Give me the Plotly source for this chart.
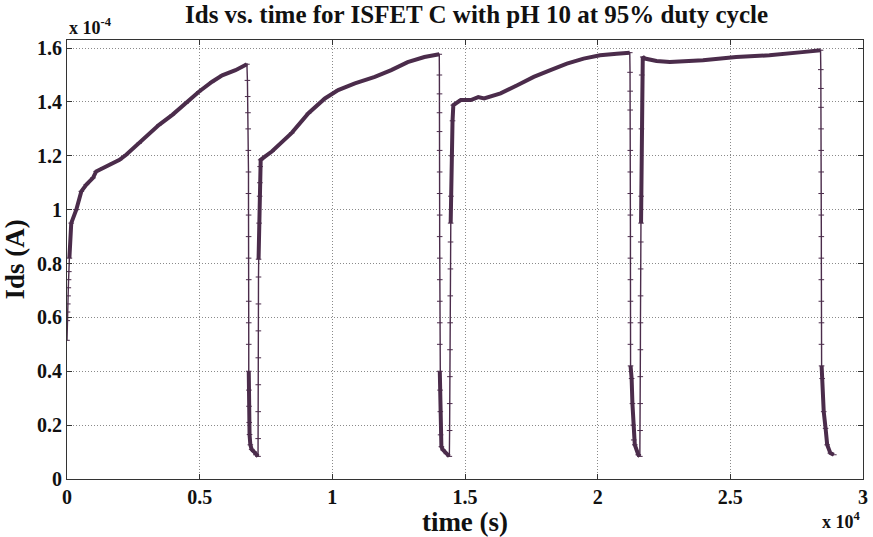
import plotly.graph_objects as go

# ---- data (time in s, Ids in microamps) ----
rise1_t = [0, 10, 20, 30, 40, 50, 60, 70, 80]
rise1_i = [51.5, 58.8, 62, 65, 68, 71, 74, 77, 80]
grow1_t = [90, 160, 350, 540, 730, 980, 1100, 1350, 1720, 1980, 2230, 2720, 3470, 3970, 4480, 4970, 5470, 5850, 6350, 6780]
grow1_i = [82, 95, 100, 106.8, 109.3, 111.8, 114.2, 115.5, 117.3, 118.5, 120.4, 124.7, 131.5, 135.2, 139.5, 143.8, 147.5, 149.9, 151.8, 154]
fall1_t = [6800, 6810, 6820, 6830, 6835, 6840, 6840, 6845, 6845, 6845, 6850, 6850, 6850, 6850]
fall1_i = [148, 142, 136, 130, 122, 114, 106, 98, 90, 82, 74, 66, 58, 50]
decay1_t = [6850, 6855, 6860, 6868, 6880, 6910, 6960, 7040, 7120, 7200]
decay1_i = [40, 33, 27, 21, 16.5, 12.7, 11, 10.2, 9, 8.4]

rise2_t = [7205, 7207, 7209, 7211, 7213, 7215, 7217]
rise2_i = [15, 25, 35, 45, 55, 65, 75]
grow2_t = [7220, 7240, 7260, 7270, 7280, 7300, 7470, 7720, 8470, 9100, 9720, 10220, 10850, 11600, 12220, 12840, 13470, 14030]
grow2_i = [81.6, 95, 105, 110, 116, 118.5, 119.8, 121.6, 128.5, 135.8, 141.3, 144.4, 146.9, 149.3, 151.8, 154.8, 156.7, 157.7]
fall2_t = [14035, 14040, 14040, 14040, 14045, 14045, 14045, 14045, 14045, 14050, 14050, 14050, 14050, 14050]
fall2_i = [150, 143, 136, 129, 122, 114, 106, 98, 90, 82, 74, 66, 58, 50]
decay2_t = [14050, 14060, 14070, 14080, 14110, 14170, 14300, 14410]
decay2_i = [40, 33, 25, 16.4, 12, 10.8, 9.4, 8.4]

rise3_t = [14420, 14425, 14430, 14435, 14440, 14445, 14450, 14455]
rise3_i = [18, 28, 38, 48, 58, 68, 78, 88]
grow3_t = [14460, 14470, 14500, 14530, 14560, 14700, 14840, 15220, 15500, 15720, 16340, 16970, 17590, 18220, 18840, 19470, 20090, 20720, 21210]
grow3_i = [95, 105, 120, 133, 138.8, 139.8, 140.7, 140.7, 141.8, 141.3, 143.2, 146.2, 149.3, 151.8, 154.2, 156.1, 157.3, 157.9, 158.3]
fall3_t = [21220, 21225, 21225, 21228, 21230, 21230, 21230, 21232, 21235, 21235, 21235, 21235, 21235, 21235]
fall3_i = [151, 144, 137, 130, 122, 114, 106, 98, 90, 82, 74, 66, 58, 50]
decay3_t = [21240, 21280, 21310, 21340, 21360, 21400, 21530, 21590]
decay3_i = [42, 37.3, 28, 20, 14.5, 12.7, 9, 8.4]

rise4_t = [21600, 21603, 21606, 21610, 21613, 21617, 21620, 21625]
rise4_i = [18, 28, 38, 48, 58, 68, 78, 88]
grow4_t = [21635, 21640, 21650, 21660, 21700, 21780, 22220, 22720, 23970, 25220, 26470, 27710, 28400]
grow4_i = [95, 105, 130, 150, 156.7, 156.1, 155.2, 154.8, 155.5, 156.7, 157.3, 158.5, 159.2]
fall4_t = [28410, 28415, 28420, 28420, 28425, 28425, 28425, 28428, 28430, 28430, 28430, 28430, 28435, 28435]
fall4_i = [152, 145, 138, 130, 122, 114, 106, 98, 90, 82, 74, 66, 58, 50]
decay4_t = [28440, 28460, 28520, 28590, 28650, 28770, 28900]
decay4_i = [42, 37.3, 25, 18.8, 12.7, 9.6, 9.0]

x_ticks = [0, 5000, 10000, 15000, 20000, 25000, 30000]
x_tick_text = ["0", "0.5", "1", "1.5", "2", "2.5", "3"]
y_ticks_uA = [0, 20, 40, 60, 80, 100, 120, 140, 160]
y_tick_text = ["0", "0.2", "0.4", "0.6", "0.8", "1", "1.2", "1.4", "1.6"]

COLOR = "#4b2c4b"
UA = 1e-6

seq = [(rise1_t, rise1_i), (grow1_t, grow1_i), (fall1_t, fall1_i), (decay1_t, decay1_i),
       (rise2_t, rise2_i), (grow2_t, grow2_i), (fall2_t, fall2_i), (decay2_t, decay2_i),
       (rise3_t, rise3_i), (grow3_t, grow3_i), (fall3_t, fall3_i), (decay3_t, decay3_i),
       (rise4_t, rise4_i), (grow4_t, grow4_i), (fall4_t, fall4_i), (decay4_t, decay4_i)]
dense = [(grow1_t, grow1_i), (decay1_t, decay1_i), (grow2_t, grow2_i), (decay2_t, decay2_i),
         (grow3_t, grow3_i), (decay3_t, decay3_i), (grow4_t, grow4_i), (decay4_t, decay4_i)]

all_t, all_i = [], []
for t, i in seq:
    all_t += t
    all_i += [v * UA for v in i]
thick_t, thick_i = [], []
for t, i in dense:
    thick_t += t + [None]
    thick_i += [v * UA for v in i] + [None]

fig = go.Figure()
fig.add_trace(go.Scatter(x=all_t, y=all_i, mode="lines+markers",
                         line=dict(color=COLOR, width=1.4),
                         marker=dict(symbol="line-ew", size=4, color=COLOR,
                                     line=dict(color=COLOR, width=1)),
                         showlegend=False, hoverinfo="skip"))
fig.add_trace(go.Scatter(x=thick_t, y=thick_i, mode="lines",
                         line=dict(color=COLOR, width=4),
                         showlegend=False, hoverinfo="skip"))

FONT = "Liberation Serif"
TXT = "#111111"
axis_common = dict(showline=True, linecolor="#333333", linewidth=1.2, mirror="allticks",
                   ticks="inside", ticklen=5, tickcolor="#333333",
                   showgrid=True, gridcolor="#8a8a8a", griddash="1px,2px", gridwidth=1,
                   zeroline=False,
                   tickfont=dict(family=FONT, size=20, color=TXT, weight="bold"))

fig.update_layout(
    width=873, height=537,
    margin=dict(l=67, r=5, t=40, b=56),
    paper_bgcolor="white", plot_bgcolor="white",
    xaxis=dict(range=[0, 30000], tickvals=x_ticks, ticktext=x_tick_text,
               title=dict(text="<b>time (s)</b>", font=dict(family=FONT, size=27, color=TXT),
                          standoff=5),
               **axis_common),
    yaxis=dict(range=[0, 163 * UA], tickvals=[v * UA for v in y_ticks_uA], ticktext=y_tick_text,
               title=dict(text="<b>Ids (A)</b>", font=dict(family=FONT, size=27, color=TXT),
                          standoff=4),
               **axis_common),
    annotations=[
        dict(text="<b>Ids vs. time for ISFET C with pH 10 at 95% duty cycle</b>",
             xref="paper", yref="paper", x=0.514, y=1.057, xanchor="center", yanchor="middle",
             showarrow=False, font=dict(family=FONT, size=25, color=TXT)),
        dict(text="<b>x 10<sup>-4</sup></b>", xref="paper", yref="paper", x=0.0, y=1.0,
             xanchor="left", yanchor="bottom", yshift=0, showarrow=False,
             font=dict(family=FONT, size=18, color=TXT)),
        dict(text="<b>x 10<sup>4</sup></b>", xref="paper", yref="paper", x=1.0, y=0.0,
             xanchor="right", yanchor="top", yshift=-28, showarrow=False,
             font=dict(family=FONT, size=18, color=TXT)),
    ],
)

fig.write_html("out.html")
